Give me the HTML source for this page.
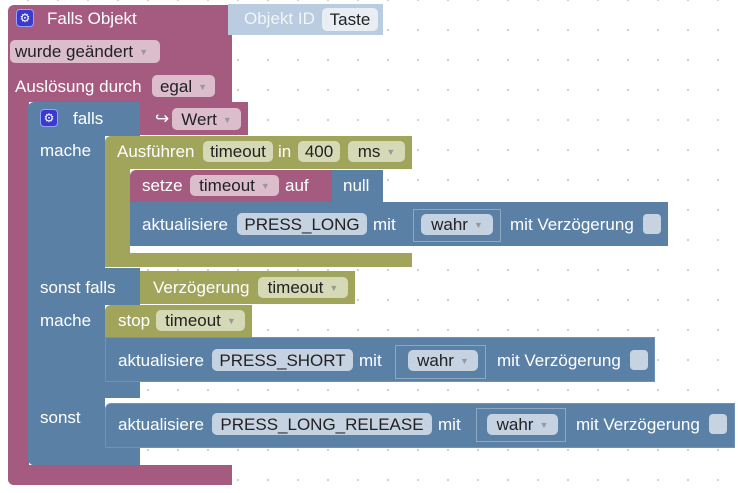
<!DOCTYPE html>
<html><head><meta charset="utf-8"><style>
html,body{margin:0;padding:0;}
body{width:738px;height:493px;position:relative;overflow:hidden;background:#fff;
background-image:radial-gradient(circle,#cfcfcf 1px,transparent 1.3px);background-size:30px 30px;background-position:13px -15px;
font-family:"Liberation Sans",Arial,sans-serif;}
.b{position:absolute;}
.p{background:#a55b80;}
.u{background:#5b80a5;}
.o{background:#a1a55b;}
.t{position:absolute;color:#fff;font-size:17px;line-height:20px;white-space:nowrap;margin-top:1px;}
.f{position:absolute;border-radius:5px;color:#222;font-size:17px;text-align:center;white-space:nowrap;}
.fp{background:#dbbdcc;}
.fu{background:#c4d2e1;}
.fo{background:#d6d9b5;}
.ar{font-size:9px;color:#999;margin-left:6px;vertical-align:2px;}
.g{position:absolute;width:18px;height:18px;background:#3a3ad0;border-radius:4px;border:1px solid #9aa0ff;box-sizing:border-box;color:#fff;font-size:12px;line-height:16px;text-align:center;}
.cb{position:absolute;width:18px;height:20px;background:#c7d3e1;border-radius:4px;}
.w{position:absolute;border:1px solid #8fa8c2;background:#5b80a5;}
</style></head><body>
<div class="b p" style="left:8px;top:5px;width:224px;height:97px;border-radius:6px 0 0 0"></div>
<div class="b p" style="left:8px;top:100px;width:21px;height:385px;border-radius:0 0 0 6px"></div>
<div class="b p" style="left:8px;top:465px;width:224px;height:20px;border-radius:0 0 0 6px"></div>
<div class="b" style="left:228px;top:4px;width:155px;height:31px;background:#b9cce0"></div>
<div class="f" style="left:322px;top:8px;width:56px;height:23px;line-height:24px;background:#e8eef4">Taste</div>
<div class="t" style="left:244px;top:8px;color:#f2f5f9">Objekt ID</div>
<div class="g" style="left:16px;top:9px">&#9881;</div>
<div class="t" style="left:47px;top:8px">Falls Objekt</div>
<div class="f fp" style="left:10px;top:40px;width:150px;height:23px;line-height:24px;text-align:left;padding-left:5px;box-sizing:border-box">wurde geändert<span class="ar">▼</span></div>
<div class="t" style="left:15px;top:76px">Auslösung durch</div>
<div class="f fp" style="left:152px;top:75px;width:63px;height:22px;line-height:23px">egal<span class="ar">▼</span></div>
<div class="b u" style="left:28px;top:102px;width:112px;height:34px;border-radius:6px 0 0 0"></div>
<div class="b u" style="left:28px;top:135px;width:77px;height:330px;border-radius:0 0 0 6px"></div>
<div class="b u" style="left:28px;top:268px;width:112px;height:37px"></div>
<div class="b u" style="left:28px;top:380px;width:112px;height:18px"></div>
<div class="b u" style="left:28px;top:447px;width:112px;height:18px;border-radius:0 0 0 6px"></div>
<div class="g" style="left:40px;top:109px">&#9881;</div>
<div class="t" style="left:73px;top:108px">falls</div>
<div class="t" style="left:40px;top:140px">mache</div>
<div class="t" style="left:40px;top:277px">sonst falls</div>
<div class="t" style="left:40px;top:310px">mache</div>
<div class="t" style="left:40px;top:407px">sonst</div>
<div class="b p" style="left:140px;top:102px;width:108px;height:33px"></div>
<div class="t" style="left:155px;top:108px">↪</div>
<div class="f fp" style="left:172px;top:108px;width:69px;height:22px;line-height:23px">Wert<span class="ar">▼</span></div>
<div class="b o" style="left:105px;top:136px;width:307px;height:33px;border-radius:6px 0 0 0"></div>
<div class="b o" style="left:105px;top:168px;width:25px;height:99px"></div>
<div class="b o" style="left:105px;top:253px;width:307px;height:14px;border-radius:0 0 0 6px"></div>
<div class="t" style="left:117px;top:141px">Ausführen</div>
<div class="f fo" style="left:203px;top:141px;width:70px;height:21px;line-height:22px">timeout</div>
<div class="t" style="left:278px;top:141px">in</div>
<div class="f fo" style="left:298px;top:141px;width:42px;height:21px;line-height:22px">400</div>
<div class="f fo" style="left:348px;top:141px;width:57px;height:21px;line-height:22px">ms<span class="ar">▼</span></div>
<div class="b p" style="left:130px;top:170px;width:202px;height:33px;border-radius:6px 0 0 0"></div>
<div class="t" style="left:142px;top:175px">setze</div>
<div class="f fp" style="left:190px;top:175px;width:89px;height:21px;line-height:22px">timeout<span class="ar">▼</span></div>
<div class="t" style="left:285px;top:175px">auf</div>
<div class="b u" style="left:332px;top:170px;width:51px;height:32px"></div>
<div class="t" style="left:343px;top:175px">null</div>
<div class="b u" style="left:130px;top:202px;width:538px;height:44px"></div>
<div class="t" style="left:142px;top:214px">aktualisiere</div>
<div class="f fu" style="left:237px;top:213px;width:130px;height:22px;line-height:23px">PRESS_LONG</div>
<div class="t" style="left:373px;top:214px">mit</div>
<div class="w" style="left:413px;top:209px;width:86px;height:31px"></div>
<div class="f fu" style="left:421px;top:214px;width:72px;height:21px;line-height:22px">wahr<span class="ar">▼</span></div>
<div class="t" style="left:510px;top:214px">mit Verzögerung</div>
<div class="cb" style="left:643px;top:214px"></div>
<div class="b o" style="left:140px;top:271px;width:215px;height:33px"></div>
<div class="t" style="left:153px;top:277px">Verzögerung</div>
<div class="f fo" style="left:258px;top:277px;width:90px;height:21px;line-height:22px">timeout<span class="ar">▼</span></div>
<div class="b o" style="left:105px;top:305px;width:147px;height:33px;border-radius:6px 0 0 0"></div>
<div class="t" style="left:118px;top:310px">stop</div>
<div class="f fo" style="left:156px;top:310px;width:89px;height:21px;line-height:22px">timeout<span class="ar">▼</span></div>
<div class="b u" style="left:105px;top:337px;width:550px;height:45px;border:1px solid #6f92b6;box-sizing:border-box"></div>
<div class="t" style="left:118px;top:350px">aktualisiere</div>
<div class="f fu" style="left:212px;top:349px;width:141px;height:22px;line-height:23px">PRESS_SHORT</div>
<div class="t" style="left:359px;top:350px">mit</div>
<div class="w" style="left:395px;top:345px;width:89px;height:32px"></div>
<div class="f fu" style="left:408px;top:350px;width:70px;height:21px;line-height:22px">wahr<span class="ar">▼</span></div>
<div class="t" style="left:497px;top:350px">mit Verzögerung</div>
<div class="cb" style="left:630px;top:350px"></div>
<div class="b u" style="left:105px;top:403px;width:630px;height:45px;border-radius:6px 0 0 0;border:1px solid #6f92b6;box-sizing:border-box"></div>
<div class="t" style="left:118px;top:414px">aktualisiere</div>
<div class="f fu" style="left:212px;top:413px;width:220px;height:22px;line-height:23px">PRESS_LONG_RELEASE</div>
<div class="t" style="left:438px;top:414px">mit</div>
<div class="w" style="left:476px;top:408px;width:88px;height:32px"></div>
<div class="f fu" style="left:487px;top:414px;width:71px;height:21px;line-height:22px">wahr<span class="ar">▼</span></div>
<div class="t" style="left:576px;top:414px">mit Verzögerung</div>
<div class="cb" style="left:709px;top:414px"></div>
</body></html>
